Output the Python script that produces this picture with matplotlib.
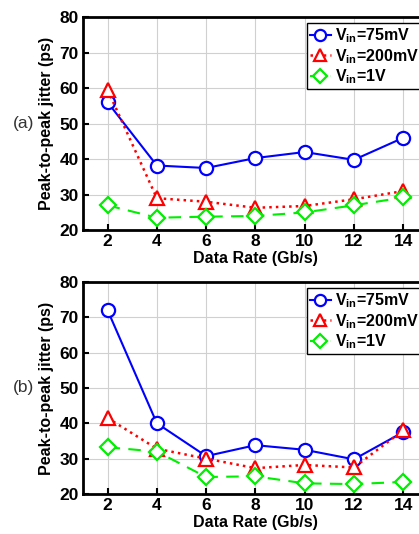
import numpy as np
import matplotlib.pyplot as plt

plt.rcParams['font.family'] = ['Liberation Sans', 'DejaVu Sans']

rate = [2, 4, 6, 8, 10, 12, 14]

# (a)
a_75mv = [56.0, 38.2, 37.5, 40.3, 42.0, 39.8, 46.0]
a_200mv = [59.5, 29.0, 28.0, 26.3, 26.8, 28.7, 31.0]
a_1v = [27.0, 23.5, 23.8, 24.0, 25.0, 27.0, 29.2]

# (b)
b_75mv = [72.0, 40.0, 30.7, 33.8, 32.5, 29.8, 37.5]
b_200mv = [41.5, 32.8, 30.0, 27.3, 28.2, 27.5, 38.0]
b_1v = [33.2, 32.0, 24.8, 25.0, 23.0, 22.8, 23.4]

labels = [r'V$_{\mathregular{in}}$=75mV', r'V$_{\mathregular{in}}$=200mV',
          r'V$_{\mathregular{in}}$=1V']

fig = plt.figure(figsize=(4.19, 5.34), dpi=100)
ax1 = fig.add_axes([0.198, 0.569, 0.823, 0.399])
ax2 = fig.add_axes([0.198, 0.075, 0.823, 0.397])


def draw(ax, s1, s2, s3, tag):
    ax.plot(rate, s1, '-', color='#0000ff', lw=1.5, marker='o', ms=9.5,
            mfc='white', mec='#0000ff', mew=1.6, label=labels[0])
    ax.plot(rate, s2, ':', color='#ff0000', lw=1.8, marker='^', ms=9.5,
            mfc='white', mec='#ff0000', mew=1.6, label=labels[1])
    ax.plot(rate, s3, '--', color='#00ee00', lw=1.5, marker='D', ms=8,
            mfc='white', mec='#00ee00', mew=1.6, label=labels[2], dashes=(6, 4))
    ax.set_xlim(1, 15)
    ax.set_ylim(20, 80)
    ax.set_xticks(rate)
    ax.set_yticks([20, 30, 40, 50, 60, 70, 80])
    ax.grid(True, color='#d0d0d0', lw=0.8)
    ax.set_axisbelow(True)
    for sp in ax.spines.values():
        sp.set_linewidth(2)
    ax.tick_params(labelsize=12.5, width=1.5, length=4, direction='in', pad=3)
    for t in ax.get_xticklabels() + ax.get_yticklabels():
        t.set_fontweight('bold')
    ax.set_xlabel('Data Rate (Gb/s)', fontsize=11.5, fontweight='bold', labelpad=1)
    ax.set_ylabel('Peak-to-peak jitter (ps)', fontsize=11.5, fontweight='bold',
                  labelpad=4)
    leg = ax.legend(loc='upper right', bbox_to_anchor=(0.985, 0.97),
                    fancybox=False, edgecolor='black', framealpha=1,
                    handlelength=1.3, handletextpad=0.3, borderpad=0.2,
                    labelspacing=0.1, borderaxespad=0, markerscale=0.85,
                    prop={'weight': 'bold', 'size': 11.5})
    leg.get_frame().set_linewidth(1.0)
    ax.text(-0.172, 0.5, tag, transform=ax.transAxes, fontsize=12.5,
            color='#333333', ha='center', va='center')


draw(ax1, a_75mv, a_200mv, a_1v, '(a)')
draw(ax2, b_75mv, b_200mv, b_1v, '(b)')

plt.savefig('out.png', dpi=100)
